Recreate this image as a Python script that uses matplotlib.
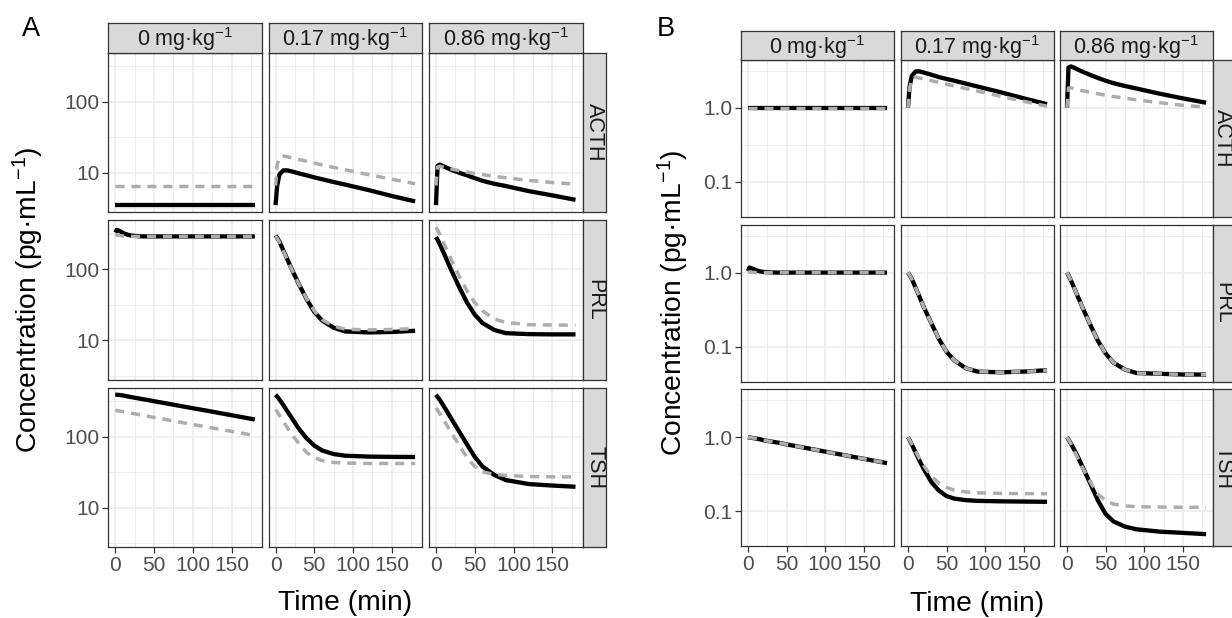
import matplotlib
matplotlib.use("Agg")
import matplotlib.pyplot as plt
from matplotlib.ticker import FixedLocator, NullFormatter, FixedFormatter

plt.rcParams['font.family'] = ['Liberation Sans', 'DejaVu Sans']
plt.rcParams['mathtext.fontset'] = 'custom'
plt.rcParams['mathtext.rm'] = 'Liberation Sans'
plt.rcParams['mathtext.it'] = 'Liberation Sans:italic'
plt.rcParams['mathtext.bf'] = 'Liberation Sans:bold'

# ---------------- data ----------------
doses = ["0 mg·kg$^{-1}$", "0.17 mg·kg$^{-1}$", "0.86 mg·kg$^{-1}$"]
hormones = ["ACTH", "PRL", "TSH"]
time_min = [0, 2, 5, 10, 15, 20, 30, 40, 50, 60, 75, 90, 120, 150, 180]
x_ticks = [0, 50, 100, 150]
x_tick_labels = ["0", "50", "100", "150"]
yA_ticks = [10, 100]
yA_tick_labels = ["10", "100"]
yB_ticks = [0.1, 1.0]
yB_tick_labels = ["0.1", "1.0"]

# Panel A (absolute, pg/mL) -- solid black and dashed grey curves
A_ACTH_0_solid    = [3.5, 3.5, 3.5, 3.5, 3.5, 3.5, 3.5, 3.5, 3.5, 3.5, 3.5, 3.5, 3.5, 3.5, 3.5]
A_ACTH_0_dashed   = [6.6, 6.6, 6.6, 6.6, 6.6, 6.6, 6.6, 6.6, 6.6, 6.6, 6.6, 6.6, 6.6, 6.6, 6.6]
A_ACTH_017_solid  = [3.5, 6.5, 9.5, 10.8, 10.8, 10.5, 9.8, 9.2, 8.6, 8.1, 7.4, 6.8, 5.7, 4.7, 3.95]
A_ACTH_017_dashed = [6.6, 13.0, 16.5, 17.2, 16.8, 16.3, 15.4, 14.5, 13.7, 12.9, 11.9, 11.0, 9.4, 8.1, 7.0]
A_ACTH_086_solid  = [3.5, 12.5, 13.0, 12.3, 11.6, 11.0, 10.0, 9.2, 8.4, 7.7, 7.0, 6.5, 5.5, 4.8, 4.15]
A_ACTH_086_dashed = [6.6, 12.0, 12.4, 11.9, 11.6, 11.3, 10.7, 10.2, 9.8, 9.4, 8.9, 8.5, 7.8, 7.3, 6.9]

A_PRL_0_solid     = [330, 360, 350, 325, 310, 300, 293, 291, 291, 291, 291, 291, 291, 291, 291]
A_PRL_0_dashed    = [300, 305, 300, 295, 292, 291, 291, 291, 291, 291, 291, 291, 291, 291, 291]
A_PRL_017_solid   = [300, 280, 245, 185, 140, 105, 62, 38, 25, 19, 15, 13.3, 12.9, 13.1, 13.6]
A_PRL_017_dashed  = [295, 275, 240, 182, 138, 104, 62, 38.5, 26, 19.5, 15.8, 14.3, 14.0, 14.2, 14.6]
A_PRL_086_solid   = [285, 262, 225, 170, 128, 96, 56, 34, 23, 17.5, 14, 12.6, 12.2, 12.1, 12.1]
A_PRL_086_dashed  = [393, 360, 310, 235, 178, 135, 80, 50, 34, 26, 20, 17.8, 16.6, 16.4, 16.3]

A_TSH_0_solid     = [391, 391, 388, 382, 372, 363, 347, 332, 317, 303, 283, 264, 231, 201, 175]
A_TSH_0_dashed    = [236, 234, 231, 226, 221, 216, 206, 196, 187, 179, 167, 156, 136, 119, 104]
A_TSH_017_solid   = [391, 370, 335, 280, 230, 190, 130, 95, 75, 64, 57, 54, 52.5, 52, 51.8]
A_TSH_017_dashed  = [241, 225, 200, 165, 135, 112, 80, 60, 51, 46, 43.5, 42.5, 42, 42, 41.9]
A_TSH_086_solid   = [391, 365, 330, 270, 220, 178, 118, 78, 52, 38, 29, 24.5, 21.5, 20.5, 19.7]
A_TSH_086_dashed  = [255, 238, 210, 172, 140, 114, 75, 51, 38, 32, 29.5, 28.5, 27.5, 27.2, 27.1]

# Panel B (relative to baseline)
B_ACTH_0_solid    = [1.0] * 15
B_ACTH_0_dashed   = [1.0] * 15
B_ACTH_017_solid  = [1.0, 1.9, 2.7, 3.1, 3.1, 3.0, 2.8, 2.6, 2.45, 2.32, 2.12, 1.94, 1.62, 1.34, 1.12]
B_ACTH_017_dashed = [1.0, 1.8, 2.5, 2.6, 2.52, 2.46, 2.33, 2.2, 2.08, 1.97, 1.82, 1.68, 1.43, 1.22, 1.05]
B_ACTH_086_solid  = [1.0, 3.5, 3.62, 3.45, 3.25, 3.08, 2.78, 2.53, 2.32, 2.15, 1.97, 1.82, 1.55, 1.34, 1.17]
B_ACTH_086_dashed = [1.0, 1.85, 1.87, 1.8, 1.75, 1.7, 1.62, 1.55, 1.48, 1.42, 1.35, 1.28, 1.17, 1.08, 1.02]

B_PRL_0_solid     = [1.05, 1.17, 1.14, 1.08, 1.04, 1.02, 1.005, 1.0, 1.0, 1.0, 1.0, 1.0, 1.0, 1.0, 1.0]
B_PRL_0_dashed    = [1.0, 1.02, 1.01, 1.0, 1.0, 1.0, 1.0, 1.0, 1.0, 1.0, 1.0, 1.0, 1.0, 1.0, 1.0]
B_PRL_017_solid   = [1.0, 0.93, 0.82, 0.62, 0.47, 0.35, 0.21, 0.127, 0.085, 0.065, 0.051, 0.046, 0.045, 0.046, 0.048]
B_PRL_017_dashed  = [1.0, 0.93, 0.82, 0.62, 0.47, 0.35, 0.21, 0.127, 0.085, 0.065, 0.051, 0.046, 0.045, 0.046, 0.048]
B_PRL_086_solid   = [1.0, 0.92, 0.79, 0.6, 0.45, 0.34, 0.2, 0.12, 0.081, 0.061, 0.049, 0.044, 0.043, 0.042, 0.042]
B_PRL_086_dashed  = [1.0, 0.92, 0.79, 0.6, 0.45, 0.34, 0.2, 0.12, 0.081, 0.061, 0.049, 0.044, 0.043, 0.042, 0.042]

B_TSH_0_solid     = [1.0, 0.99, 0.98, 0.96, 0.94, 0.91, 0.874, 0.84, 0.8, 0.764, 0.715, 0.668, 0.584, 0.51, 0.446]
B_TSH_0_dashed    = [1.0, 0.99, 0.98, 0.96, 0.94, 0.91, 0.874, 0.84, 0.8, 0.764, 0.715, 0.668, 0.584, 0.51, 0.446]
B_TSH_017_solid   = [1.0, 0.92, 0.8, 0.62, 0.48, 0.38, 0.25, 0.19, 0.16, 0.148, 0.141, 0.138, 0.136, 0.135, 0.134]
B_TSH_017_dashed  = [1.0, 0.92, 0.81, 0.64, 0.51, 0.42, 0.3, 0.24, 0.21, 0.192, 0.182, 0.177, 0.174, 0.173, 0.172]
B_TSH_086_solid   = [1.0, 0.93, 0.82, 0.66, 0.52, 0.4, 0.24, 0.14, 0.092, 0.073, 0.062, 0.057, 0.053, 0.051, 0.049]
B_TSH_086_dashed  = [1.0, 0.93, 0.82, 0.64, 0.5, 0.39, 0.25, 0.17, 0.14, 0.125, 0.118, 0.115, 0.114, 0.113, 0.113]

A_curves = [
    [(A_ACTH_0_solid, A_ACTH_0_dashed), (A_ACTH_017_solid, A_ACTH_017_dashed), (A_ACTH_086_solid, A_ACTH_086_dashed)],
    [(A_PRL_0_solid, A_PRL_0_dashed), (A_PRL_017_solid, A_PRL_017_dashed), (A_PRL_086_solid, A_PRL_086_dashed)],
    [(A_TSH_0_solid, A_TSH_0_dashed), (A_TSH_017_solid, A_TSH_017_dashed), (A_TSH_086_solid, A_TSH_086_dashed)],
]
B_curves = [
    [(B_ACTH_0_solid, B_ACTH_0_dashed), (B_ACTH_017_solid, B_ACTH_017_dashed), (B_ACTH_086_solid, B_ACTH_086_dashed)],
    [(B_PRL_0_solid, B_PRL_0_dashed), (B_PRL_017_solid, B_PRL_017_dashed), (B_PRL_086_solid, B_PRL_086_dashed)],
    [(B_TSH_0_solid, B_TSH_0_dashed), (B_TSH_017_solid, B_TSH_017_dashed), (B_TSH_086_solid, B_TSH_086_dashed)],
]

# ---------------- figure ----------------
W, H = 1232, 618
fig = plt.figure(figsize=(W / 100, H / 100), dpi=100)

def ax_px(x0, y0, x1, y1, **kw):
    return fig.add_axes([x0 / W, 1 - y1 / H, (x1 - x0) / W, (y1 - y0) / H], **kw)

BORDER = '#333333'
STRIP = '#D9D9D9'
GRID = '#EBEBEB'
TICKTXT = '#4D4D4D'
GREY_LINE = '#ADADAD'
TICK_FS = 15
STRIP_FS = 15.5
TITLE_FS = 20.3


def draw_panel(curves, col_x, row_y, pw, ph, strip_top, rstrip_w, ylim, yticks, ylabels,
               yminor, letter, letter_xy, xlabel_y, ylabel_x, rtext_x):
    for r in range(3):
        for c in range(3):
            x0 = col_x[c]
            y0 = row_y[r]
            ax = ax_px(x0, y0, x0 + pw, y0 + ph)
            ax.set_yscale('log')
            ax.set_xlim(-9, 189)
            ax.set_ylim(*ylim)
            ax.xaxis.set_major_locator(FixedLocator(x_ticks))
            ax.xaxis.set_minor_locator(FixedLocator([25, 75, 125, 175]))
            ax.yaxis.set_major_locator(FixedLocator(yticks))
            ax.yaxis.set_minor_locator(FixedLocator(yminor))
            ax.yaxis.set_minor_formatter(NullFormatter())
            ax.xaxis.set_minor_formatter(NullFormatter())
            ax.grid(True, which='major', color=GRID, linewidth=1.1, zorder=0)
            ax.grid(True, which='minor', color=GRID, linewidth=0.6, zorder=0)
            ax.set_axisbelow(True)
            for s in ax.spines.values():
                s.set_color(BORDER)
                s.set_linewidth(0.9)
            ax.tick_params(which='minor', length=0)
            ax.tick_params(which='major', length=4, width=0.9, color=BORDER,
                           labelsize=TICK_FS, labelcolor=TICKTXT, pad=2)
            if c == 0:
                ax.yaxis.set_major_formatter(FixedFormatter(ylabels))
            else:
                ax.tick_params(axis='y', which='major', length=0, labelleft=False)
            if r == 2:
                ax.xaxis.set_major_formatter(FixedFormatter(x_tick_labels))
            else:
                ax.tick_params(axis='x', which='major', length=0, labelbottom=False)
            solid, dashed = curves[r][c]
            ax.plot(time_min, solid, color='black', linewidth=3.1, solid_capstyle='butt',
                    solid_joinstyle='round', zorder=3)
            ax.plot(time_min, dashed, color=GREY_LINE, linewidth=2.5,
                    linestyle=(0, (2.6, 2.0)), zorder=4)
            # right strip
            if c == 2:
                sa = ax_px(x0 + pw, y0, x0 + pw + rstrip_w, y0 + ph)
                sa.set_facecolor(STRIP)
                sa.set_xticks([]); sa.set_yticks([])
                for s in sa.spines.values():
                    s.set_color(BORDER); s.set_linewidth(0.9)
                fig.text(rtext_x / W, 1 - (y0 + ph / 2) / H, hormones[r], rotation=-90,
                         ha='center', va='center', fontsize=STRIP_FS, color='#1A1A1A')
    # top strips
    for c in range(3):
        x0 = col_x[c]
        sa = ax_px(x0, strip_top, x0 + pw, row_y[0])
        sa.set_facecolor(STRIP)
        sa.set_xticks([]); sa.set_yticks([])
        for s in sa.spines.values():
            s.set_color(BORDER); s.set_linewidth(0.9)
        sa.text(0.5, 0.45, doses[c], ha='center', va='center', fontsize=STRIP_FS,
                color='#1A1A1A', transform=sa.transAxes)
    # letter
    fig.text(letter_xy[0] / W, 1 - letter_xy[1] / H, letter, fontsize=19.5, ha='center',
             va='center', color='black')
    # axis titles
    xc = (col_x[0] + col_x[2] + pw) / 2
    fig.text(xc / W, 1 - xlabel_y / H, 'Time (min)', fontsize=TITLE_FS, ha='center',
             va='center', color='black')
    yc = (row_y[0] + row_y[2] + ph) / 2
    fig.text(ylabel_x / W, 1 - yc / H, 'Concentration (pg·mL$^{-1}$)', fontsize=TITLE_FS,
             rotation=90, ha='center', va='center', color='black')


draw_panel(A_curves, col_x=[108.3, 268.6, 429.0], row_y=[52.7, 220.2, 387.6], pw=153.5,
           ph=159.6, strip_top=23.0, rstrip_w=23.5, ylim=(2.77, 493), yticks=yA_ticks,
           ylabels=yA_tick_labels, yminor=[10 ** 0.5, 10 ** 1.5, 10 ** 2.5],
           letter='A', letter_xy=(31, 29), xlabel_y=603, ylabel_x=28, rtext_x=594.5)

draw_panel(B_curves, col_x=[741.0, 901.0, 1060.0], row_y=[60.0, 224.8, 389.4], pw=153.0,
           ph=156.8, strip_top=31.0, rstrip_w=23.5, ylim=(0.0337, 4.42), yticks=yB_ticks,
           ylabels=yB_tick_labels, yminor=[10 ** -1.5, 10 ** -0.5, 10 ** 0.5],
           letter='B', letter_xy=(666, 29), xlabel_y=604, ylabel_x=673, rtext_x=1222.5)

fig.savefig('out.png', dpi=100)
